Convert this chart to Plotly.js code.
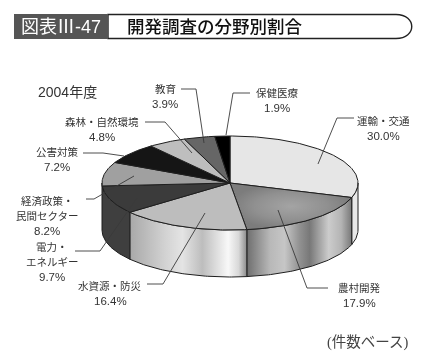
<!DOCTYPE html>
<html><head><meta charset="utf-8">
<script src="https://cdn.plot.ly/plotly-3.0.1.min.js"></script>
<style>html,body{margin:0;padding:0;background:#fff}#c{width:421px;height:362px;filter:blur(0.35px)}</style>
</head><body><div id="c"></div>
<script>
const categories = ['運輸・交通','農村開発','水資源・防災','電力・エネルギー','経済政策・民間セクター','公害対策','森林・自然環境','教育','保健医療'];
const shares = [30.0,17.9,16.4,9.7,8.2,7.2,4.8,3.9,1.9];
const labelLines = [['運輸・交通'],['農村開発'],['水資源・防災'],['電力・','エネルギー'],['経済政策・','民間セクター'],['公害対策'],['森林・自然環境'],['教育'],['保健医療']];
const topColors = ['#e6e6e6','#8c8c8c','#bdbdbd','#3b3b3b','#a0a0a0','#151515','#bebebe','#666666','#000000'];

// Scene geometry
const CX=230, CY=183, RX=128, RY=47, DEPTH=47;
const labelPos = [[383,121],[359,288],[110,286],[52,247],[47,201],[57,152],[102,122],[165,89],[277,93]];
const leaders = [
  [[354,118],[337,118],[318,164]],
  [[328,288],[307,288],[278,210]],
  [[147,284],[163,284],[205,213]],
  [[75,251],[100,251],[137,198]],
  [[86,199],[94,199],[134,176]],
  [[83,153],[103,153],[124,156]],
  [[145,122],[165,122],[192,153]],
  [[181,89],[196,89],[204,143]],
  [[250,93],[233,93],[226,135]]
];
const sideFill = [
  {color:'#e8e8e8'},
  {grad:[[0,'#6e6e6e'],[0.22,'#b8b8b8'],[0.36,'#c6c6c6'],[0.5,'#929292'],[0.6,'#787878'],[0.78,'#cccccc'],[0.9,'#b4b4b4'],[1,'#787878']]},
  {grad:[[0,'#a8a8a8'],[0.3,'#d2d2d2'],[0.45,'#e4e4e4'],[0.62,'#bdbdbd'],[0.84,'#f8f8f8'],[0.93,'#d8d8d8'],[1,'#8a8a8a']]},
  {color:'#3f3f3f'}
];
const topGradient = {1:{type:'radial',colorscale:[[0,'#a4a4a4'],[0.6,'#909090'],[1,'#7c7c7c']]}};

const pt=(deg,dy=0)=>{const r=deg*Math.PI/180;return [CX+RX*Math.sin(r),CY-RY*Math.cos(r)+dy];};
const arc=(a,b,dy=0)=>{const n=Math.max(2,Math.ceil(Math.abs(b-a)));const out=[];for(let i=0;i<=n;i++)out.push(pt(a+(b-a)*i/n,dy));return out;};

const bounds=[];let run=0;
shares.forEach(v=>{const a=run*3.6;run+=v;bounds.push([a,run*3.6]);});

const traces=[];
const OUT={color:'#1f1f1f',width:1};
const poly=(pts,extra)=>Object.assign({x:pts.map(p=>p[0]),y:pts.map(p=>p[1]),mode:'lines',fill:'toself',line:OUT,hoverinfo:'skip',showlegend:false,type:'scatter'},extra);

// side walls: only the part of each slice on the front half (90..270)
bounds.forEach((b,i)=>{
  let a0=Math.max(b[0],90),a1=Math.min(b[1],270);
  if(i===3)a1=270;
  if(a1<=a0||!sideFill[i])return;
  const pts=arc(a0,a1).concat(arc(a1,a0,DEPTH));pts.push(pts[0]);
  const f=sideFill[i];
  const ex=f.grad?{fillcolor:'#bbb',fillgradient:{type:'horizontal',colorscale:f.grad}}:{fillcolor:f.color};
  traces.push(poly(pts,ex));
});
// top slices
bounds.forEach((b,i)=>{
  const pts=[[CX,CY]].concat(arc(b[0],b[1]));pts.push([CX,CY]);
  const ex={fillcolor:topColors[i]};
  if(topGradient[i])ex.fillgradient=topGradient[i];
  traces.push(poly(pts,ex));
});
// leaders
leaders.forEach(l=>traces.push({x:l.map(p=>p[0]),y:l.map(p=>p[1]),mode:'lines',line:{color:'#3a3a3a',width:0.9},hoverinfo:'skip',showlegend:false,type:'scatter'}));

const FONT='"Liberation Sans","Noto Sans CJK JP",sans-serif', TXT='#333333';
const ann=(x,y,text,size,extra)=>Object.assign({x,y,text,xref:'x',yref:'y',showarrow:false,xanchor:'center',yanchor:'middle',font:{family:FONT,size,color:TXT}},extra||{});
const annotations=[];
categories.forEach((c,i)=>{
  const [x,y]=labelPos[i];
  labelLines[i].forEach((t,j)=>annotations.push(ann(x,y+j*14.5,t,10.5)));
  annotations.push(ann(x,y+labelLines[i].length*14.8,shares[i].toFixed(1)+'%',11.5));
});
annotations.push(ann(67,92,'2004年度',14));
annotations.push(ann(61,27,'図表Ⅲ-47',18,{font:{family:FONT,size:18,color:'#ffffff'}}));
annotations.push(ann(214,27,'開発調査の分野別割合',17.5,{font:{family:FONT,size:17.5,color:'#111111',weight:500}}));
annotations.push(ann(368,342,'(件数ベース)',14.5,{font:{family:'"Liberation Serif","Noto Sans CJK JP",serif',size:14.5,color:'#444'}}));

const shapes=[
  {type:'path',xref:'x',yref:'y',path:'M108,14.5 L396,14.5 C417,14.5 417,38.5 396,38.5 L108,38.5 Z',fillcolor:'#ffffff',line:{color:'#222',width:1.4}},
  {type:'rect',xref:'x',yref:'y',x0:14,x1:108,y0:14,y1:39,fillcolor:'#555555',line:{width:0}}
];

Plotly.newPlot('c',traces,{
  width:421,height:362,margin:{l:0,r:0,t:0,b:0},paper_bgcolor:'#fff',plot_bgcolor:'#fff',showlegend:false,
  xaxis:{range:[0,421],visible:false,fixedrange:true},
  yaxis:{range:[362,0],visible:false,fixedrange:true},
  annotations,shapes
},{displayModeBar:false,staticPlot:true});
</script></body></html>
